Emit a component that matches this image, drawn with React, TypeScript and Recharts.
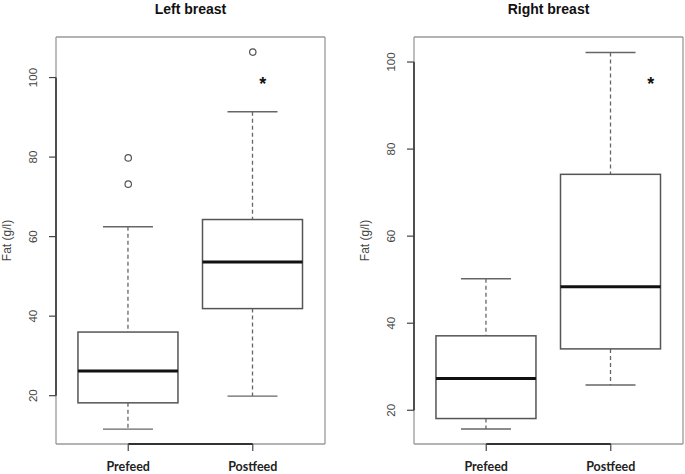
import React from 'react';
import { ComposedChart, Bar, Line, XAxis, YAxis, ReferenceArea, ReferenceLine, CartesianGrid } from 'recharts';

const groups = ['Prefeed', 'Postfeed'];
const xPositions = [1, 2];

const leftMin = [11.6, 19.9];
const leftQ1 = [18.2, 41.9];
const leftMedian = [26.2, 53.6];
const leftQ3 = [36.0, 64.3];
const leftMax = [62.5, 91.4];
const leftOutlierA = [73.2, 106.4];
const leftOutlierB = [79.8, null];
const leftStar = [null, 99.6];

const rightMin = [15.7, 25.8];
const rightQ1 = [18.1, 34.1];
const rightMedian = [27.3, 48.4];
const rightQ3 = [37.1, 74.2];
const rightMax = [50.2, 102.2];
const rightOutlierA = [null, null];
const rightOutlierB = [null, null];
const rightStar = [null, 96.0];

const yTicks = [20, 40, 60, 80, 100];
const leftDomain = [7.85, 110.2];
const rightDomain = [12.25, 105.75];
const xDomain = [0.42, 2.58];

const buildData = (mn, q1, md, q3, mx, oa, ob, st) =>
  groups.map((name, i) => ({
    name,
    pos: xPositions[i],
    min: mn[i],
    q1: q1[i],
    med: md[i],
    q3: q3[i],
    max: mx[i],
    oA: oa[i],
    oB: ob[i],
    star: st[i],
  }));

const leftData = buildData(leftMin, leftQ1, leftMedian, leftQ3, leftMax, leftOutlierA, leftOutlierB, leftStar);
const rightData = buildData(rightMin, rightQ1, rightMedian, rightQ3, rightMax, rightOutlierA, rightOutlierB, rightStar);

const BOX_STROKE = '#555';
const WHISKER = '#666';

const BoxShape = (props: any) => {
  const { x, y, width, height, payload } = props;
  if (!payload || x == null || y == null) return <g />;
  const top = Math.min(y, y + height);
  const bottom = Math.max(y, y + height);
  const { min, max, q1, med, q3 } = payload;
  const py = (v: number) => bottom - ((v - min) / (max - min)) * (bottom - top);
  const cx = x + width / 2;
  const capHalf = width / 4;
  return (
    <g>
      <line x1={cx} x2={cx} y1={py(max)} y2={py(q3)} stroke={WHISKER} strokeWidth={1.3} strokeDasharray="4 3" />
      <line x1={cx} x2={cx} y1={py(q1)} y2={py(min)} stroke={WHISKER} strokeWidth={1.3} strokeDasharray="4 3" />
      <line x1={cx - capHalf} x2={cx + capHalf} y1={py(max)} y2={py(max)} stroke={WHISKER} strokeWidth={1.4} />
      <line x1={cx - capHalf} x2={cx + capHalf} y1={py(min)} y2={py(min)} stroke={WHISKER} strokeWidth={1.4} />
      <rect x={x} y={py(q3)} width={width} height={py(q1) - py(q3)} fill="#fff" stroke={BOX_STROKE} strokeWidth={1.5} />
      <line x1={x} x2={x + width} y1={py(med)} y2={py(med)} stroke="#111" strokeWidth={3} />
    </g>
  );
};

const YTick = (props: any) => {
  const { x, y, payload } = props;
  const bx = x - 9.5;
  return (
    <text
      x={bx}
      y={y}
      transform={`rotate(-90, ${bx}, ${y})`}
      textAnchor="middle"
      fontFamily="'Liberation Sans', Arial, sans-serif"
      fontSize={11.5}
      fill="#444"
    >
      {payload.value}
    </text>
  );
};

const XTick = (props: any) => {
  const { x, y, payload } = props;
  const label = groups[xPositions.indexOf(payload.value)] ?? '';
  return (
    <text
      x={x}
      y={y + 18}
      textAnchor="middle"
      fontFamily="Lato, 'Open Sans', sans-serif"
      fontWeight="bold"
      fontSize={12.5}
      fill="#222"
    >
      {label}
    </text>
  );
};

const makeYLabel = (yw: number) => (props: any) => {
  const vb = props.viewBox || {};
  const ax = (vb.x ?? 0) + (vb.width ?? yw);
  const bx = ax - 45.5;
  const cy = (vb.y ?? 37) + (vb.height ?? 407) / 2;
  return (
    <text
      x={bx}
      y={cy}
      transform={`rotate(-90, ${bx}, ${cy})`}
      textAnchor="middle"
      fontFamily="'Liberation Sans', Arial, sans-serif"
      fontSize={12}
      fill="#444"
    >
      Fat (g/l)
    </text>
  );
};

const makeStarDot = (dx: number) => (props: any) => {
  const { cx, cy, index } = props;
  if (cx == null || cy == null || isNaN(cx) || isNaN(cy)) return <g key={`s-${index}`} />;
  return (
    <text
      key={`s-${index}`}
      x={cx + dx}
      y={cy + 10.5}
      textAnchor="middle"
      fontFamily="'Liberation Sans', Arial, sans-serif"
      fontWeight="bold"
      fontSize={18}
      fill="#111"
    >
      *
    </text>
  );
};

const outlierDot = { r: 3.2, fill: '#fff', stroke: '#555', strokeWidth: 1.2 };

const Panel = ({ data, domain, title, left, width, yw, mr, starDx }: any) => {
  const plotWidth = width - yw - mr;
  return (
    <div style={{ position: 'absolute', left, top: 0, width, height: 474 }}>
      <div
        style={{
          position: 'absolute',
          left: yw - 60,
          width: plotWidth + 120,
          top: 2,
          textAlign: 'center',
          fontFamily: "'Liberation Sans', Arial, sans-serif",
          fontWeight: 'bold',
          fontSize: 14,
          lineHeight: '14px',
          color: '#111',
        }}
      >
        {title}
      </div>
      <ComposedChart width={width} height={474} data={data} margin={{ top: 37, right: mr, bottom: 0, left: 0 }}>
        <CartesianGrid
          stroke="#9a9a9a"
          strokeWidth={1.3}
          horizontalCoordinatesGenerator={({ offset }: any) => [offset.top, offset.top + offset.height]}
          verticalCoordinatesGenerator={({ offset }: any) => [offset.left, offset.left + offset.width]}
        />
        <XAxis
          dataKey="pos"
          type="number"
          domain={xDomain}
          ticks={xPositions}
          allowDataOverflow
          interval={0}
          axisLine={false}
          tickSize={7}
          tickLine={{ stroke: '#444', strokeWidth: 1.2 }}
          tick={(p: any) => <XTick {...p} />}
          height={30}
        />
        <YAxis
          type="number"
          domain={domain}
          ticks={yTicks}
          allowDataOverflow
          interval={0}
          width={yw}
          axisLine={false}
          tickSize={7}
          tickLine={{ stroke: '#444', strokeWidth: 1.2 }}
          tick={(p: any) => <YTick {...p} />}
          label={{ content: makeYLabel(yw) }}
        />
        <Bar dataKey={(d: any) => [d.min, d.max]} barSize={100} shape={(p: any) => <BoxShape {...p} />} isAnimationActive={false} />
        <Line dataKey="oA" stroke="none" dot={outlierDot} activeDot={false} isAnimationActive={false} />
        <Line dataKey="oB" stroke="none" dot={outlierDot} activeDot={false} isAnimationActive={false} />
        <Line dataKey="star" stroke="none" dot={makeStarDot(starDx)} activeDot={false} isAnimationActive={false} />
        <ReferenceLine
          segment={[{ x: xDomain[0], y: yTicks[0] }, { x: xDomain[0], y: yTicks[yTicks.length - 1] }]}
          stroke="#333"
          strokeWidth={1.6}
          ifOverflow="visible"
        />
        <ReferenceLine
          segment={[{ x: xPositions[0], y: domain[0] }, { x: xPositions[1], y: domain[0] }]}
          stroke="#333"
          strokeWidth={1.8}
          ifOverflow="visible"
        />
      </ComposedChart>
    </div>
  );
}

export default function App() {
  return (
    <div style={{ position: 'absolute', left: 0, top: 0, width: 685, height: 474, background: '#fff', overflow: 'hidden' }}>
      <Panel data={leftData} domain={leftDomain} title="Left breast" left={0} width={340} yw={56} mr={15} starDx={10} />
      <Panel data={rightData} domain={rightDomain} title="Right breast" left={340} width={345} yw={74} mr={2} starDx={40} />
    </div>
  );
}
